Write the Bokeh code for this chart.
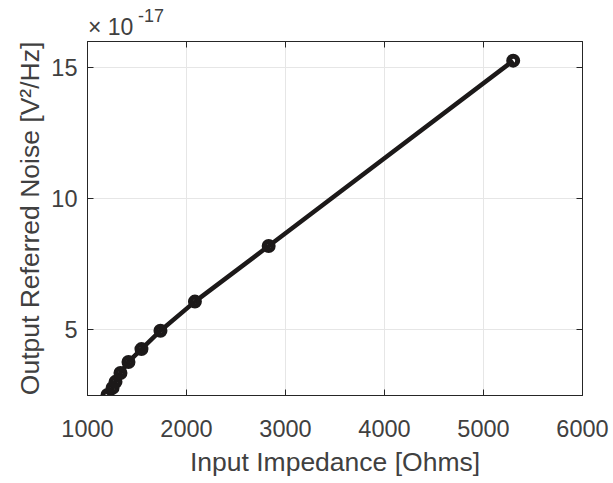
from bokeh.plotting import figure
from bokeh.models import Range1d, LinearAxis, FixedTicker, Div
from bokeh.layouts import column
from bokeh.embed import file_html
from bokeh.resources import INLINE

# Data (noise in units of 1e-17 V^2/Hz)
impedance_ohms = [1202, 1253, 1283, 1333, 1414, 1545, 1737, 2085, 2830, 5300]
noise_e17 = [2.52, 2.79, 3.02, 3.36, 3.78, 4.27, 4.97, 6.08, 8.20, 15.27]
x_ticks = [1000, 2000, 3000, 4000, 5000, 6000]
y_ticks = [5, 10, 15]
exponent_base = "\u00d7 10"
exponent_power = "-17"
x_label = "Input Impedance [Ohms]"
y_label = "Output Referred Noise [V\u00b2/Hz]"

FONT = "Liberation Sans"
TXT = "#404040"
AX = "#262626"

p = figure(width=613, height=442, output_backend="svg", toolbar_location=None,
           x_range=Range1d(1000, 6000), y_range=Range1d(2.5, 16),
           min_border_left=87, min_border_right=31, min_border_top=0, min_border_bottom=88,
           margin=0)
p.background_fill_color = "white"
p.border_fill_color = "white"
p.outline_line_color = AX
p.outline_line_width = 1

p.grid.grid_line_color = "#e6e6e6"
p.grid.grid_line_width = 1
p.xgrid.ticker = FixedTicker(ticks=x_ticks)
p.ygrid.ticker = FixedTicker(ticks=y_ticks)

for ax in (p.xaxis[0], p.yaxis[0]):
    ax.major_tick_in = 6
    ax.major_tick_out = 0
    ax.minor_tick_in = 0
    ax.minor_tick_out = 0
    ax.axis_line_color = AX
    ax.major_tick_line_color = AX
    ax.major_label_text_font = FONT
    ax.major_label_text_font_size = "23.5px"
    ax.major_label_text_color = TXT
    ax.axis_label_text_font = FONT
    ax.axis_label_text_font_size = "26.5px"
    ax.axis_label_text_font_style = "normal"
    ax.axis_label_text_color = TXT

p.xaxis[0].ticker = FixedTicker(ticks=x_ticks)
p.yaxis[0].ticker = FixedTicker(ticks=y_ticks)
p.xaxis[0].axis_label = x_label
p.yaxis[0].axis_label = y_label
p.xaxis[0].major_label_standoff = 24
p.xaxis[0].axis_label_standoff = 7
p.yaxis[0].major_label_standoff = 10
p.yaxis[0].axis_label_standoff = 3

# box ticks on top and right
top = LinearAxis(ticker=FixedTicker(ticks=x_ticks), major_tick_in=6, major_tick_out=0,
                 minor_tick_in=0, minor_tick_out=0, major_label_text_font_size="0px",
                 major_label_standoff=0, axis_line_color=AX, major_tick_line_color=AX)
right = LinearAxis(ticker=FixedTicker(ticks=y_ticks), major_tick_in=6, major_tick_out=0,
                   minor_tick_in=0, minor_tick_out=0, major_label_text_font_size="0px",
                   major_label_standoff=0, axis_line_color=AX, major_tick_line_color=AX)
p.add_layout(top, "above")
p.add_layout(right, "right")

p.line(impedance_ohms, noise_e17, line_color="#1c1919", line_width=4.5)
p.scatter(impedance_ohms, noise_e17, marker="circle", size=9, fill_color=None,
          line_color="#1c1919", line_width=5)

# exponent header above the axes
html = (
    '<div style="position:relative;width:613px;height:41px;'
    'font-family:\'Liberation Sans\';color:%s;">'
    '<span style="position:absolute;left:88px;top:16px;font-size:23px;line-height:23px;'
    'white-space:pre;">%s</span>'
    '<span style="position:absolute;left:138px;top:7px;font-size:18px;line-height:18px;'
    'white-space:pre;">%s</span>'
    '</div>'
) % (TXT, exponent_base, exponent_power)
header = Div(text=html, width=613, height=41, margin=0)

layout = column(header, p, spacing=0, margin=0)
open("out.html", "w").write(file_html(layout, INLINE))
